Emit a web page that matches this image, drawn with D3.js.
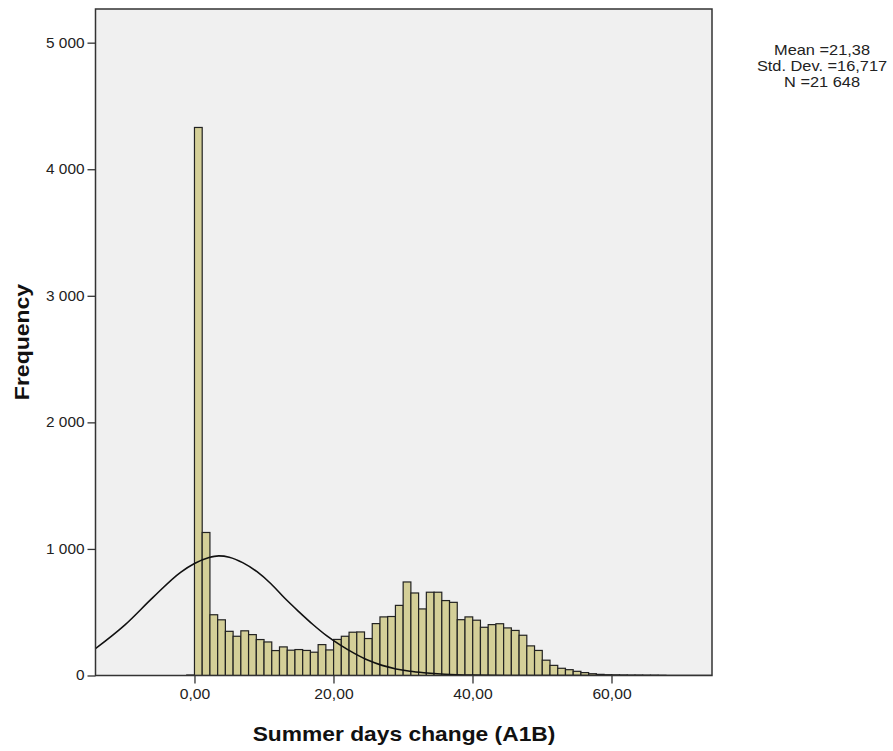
<!DOCTYPE html>
<html>
<head>
<meta charset="utf-8">
<script src="https://cdn.jsdelivr.net/npm/d3@7"></script>
<style>
  body { margin: 0; background: #fff; }
  svg text { font-family: 'Liberation Sans', Arial, sans-serif; }
</style>
</head>
<body>
<svg id="chart" width="893" height="751"></svg>
<script>
/* global d3 */

// histogram bins: first bin starts one width below zero
const binStart = -1.112
const binWidth = 1.112
const counts = [
  4, 4330, 1130, 480, 440, 349, 310, 353, 323, 284,
  265, 197, 226, 200, 205, 198, 184, 244, 202, 285,
  310, 342, 344, 292, 410, 463, 466, 554, 739, 652,
  526, 658, 658, 592, 578, 441, 463, 437, 381, 402,
  409, 376, 356, 318, 234, 198, 121, 80, 57, 46,
  33, 23, 14, 9, 6, 5, 4, 3, 3, 2,
  2, 1
]

// normal curve
const curveX = [-14.3, -10, -6, -2, 0, 2, 3.5, 5, 7, 9, 11, 13, 15, 17, 19, 21, 23, 25, 27, 29, 31, 33, 36, 40, 45, 50, 74.5]
const curveY = [210, 400, 615, 815, 885, 930, 945, 935, 890, 820, 725, 610, 505, 405, 315, 240, 175, 120, 80, 52, 34, 22, 10, 3, 0.5, 0, 0]

const yTicks = [0, 1000, 2000, 3000, 4000, 5000]
const xTicks = [0, 20, 40, 60]
const statLines = ['Mean =21,38', 'Std. Dev. =16,717', 'N =21 648']

const svg = d3.select('#chart')
const plot = { left: 95.5, right: 712, top: 9, bottom: 675.5 }

const x = d3.scaleLinear().domain([-14.24, 74.46]).range([plot.left, plot.right])
const y = d3.scaleLinear().domain([0, 5266]).range([plot.bottom, plot.top])

svg.append('rect')
  .attr('x', plot.left).attr('y', plot.top)
  .attr('width', plot.right - plot.left).attr('height', plot.bottom - plot.top)
  .attr('fill', '#f0f0f0')

svg.append('clipPath').attr('id', 'clip')
  .append('rect')
  .attr('x', plot.left).attr('y', plot.top)
  .attr('width', plot.right - plot.left).attr('height', plot.bottom - plot.top)

const g = svg.append('g').attr('clip-path', 'url(#clip)')

g.selectAll('rect.bar')
  .data(counts)
  .join('rect')
  .attr('class', 'bar')
  .attr('x', (d, i) => x(binStart + i * binWidth))
  .attr('width', (d, i) => x(binStart + (i + 1) * binWidth) - x(binStart + i * binWidth))
  .attr('y', d => y(d))
  .attr('height', d => y(0) - y(d))
  .attr('fill', '#d4cf98')
  .attr('stroke', '#222')
  .attr('stroke-width', 1.2)

const line = d3.line()
  .x((d, i) => x(curveX[i]))
  .y(d => y(d))
  .curve(d3.curveMonotoneX)

g.append('path')
  .attr('d', line(curveY))
  .attr('fill', 'none')
  .attr('stroke', '#111')
  .attr('stroke-width', 1.6)

// frame
svg.append('rect')
  .attr('x', plot.left).attr('y', plot.top)
  .attr('width', plot.right - plot.left).attr('height', plot.bottom - plot.top)
  .attr('fill', 'none')
  .attr('stroke', '#333')
  .attr('stroke-width', 1.5)

// the original font renders a bit wider than Liberation Sans
const yAxis = d3.axisLeft(y)
  .tickValues(yTicks)
  .tickSize(8)
  .tickPadding(2)
  .tickFormat(d => d3.format(',')(d).replace(/,/g, ' '))

svg.append('g')
  .attr('transform', `translate(${plot.left},0)`)
  .call(yAxis)
  .call(s => s.select('.domain').remove())
  .call(s => s.selectAll('line').attr('stroke', '#333').attr('stroke-width', 1.3))
  .call(s => s.selectAll('text').attr('font-size', 14).attr('fill', '#222')
    .attr('transform', 'scale(1.1,1)'))

const xAxis = d3.axisBottom(x)
  .tickValues(xTicks)
  .tickSize(8)
  .tickPadding(6)
  .tickFormat(d => d3.format('.2f')(d).replace('.', ','))

svg.append('g')
  .attr('transform', `translate(0,${plot.bottom})`)
  .call(xAxis)
  .call(s => s.select('.domain').remove())
  .call(s => s.selectAll('line').attr('stroke', '#333').attr('stroke-width', 1.3))
  .call(s => s.selectAll('text').attr('font-size', 14).attr('fill', '#222')
    .attr('transform', 'scale(1.12,1)'))

svg.append('text')
  .attr('transform', 'translate(404,741) scale(1.14,1)')
  .attr('text-anchor', 'middle')
  .attr('font-size', 20).attr('font-weight', 'bold')
  .attr('fill', '#111')
  .text('Summer days change (A1B)')

svg.append('text')
  .attr('transform', 'translate(29,342) rotate(-90) scale(1.15,1)')
  .attr('text-anchor', 'middle')
  .attr('font-size', 20).attr('font-weight', 'bold')
  .attr('fill', '#111')
  .text('Frequency')

svg.append('g')
  .selectAll('text')
  .data(statLines)
  .join('text')
  .attr('transform', (d, i) => `translate(822,${55 + i * 16}) scale(1.17,1)`)
  .attr('text-anchor', 'middle')
  .attr('font-size', 14)
  .attr('fill', '#222')
  .text(d => d)
</script>
</body>
</html>
